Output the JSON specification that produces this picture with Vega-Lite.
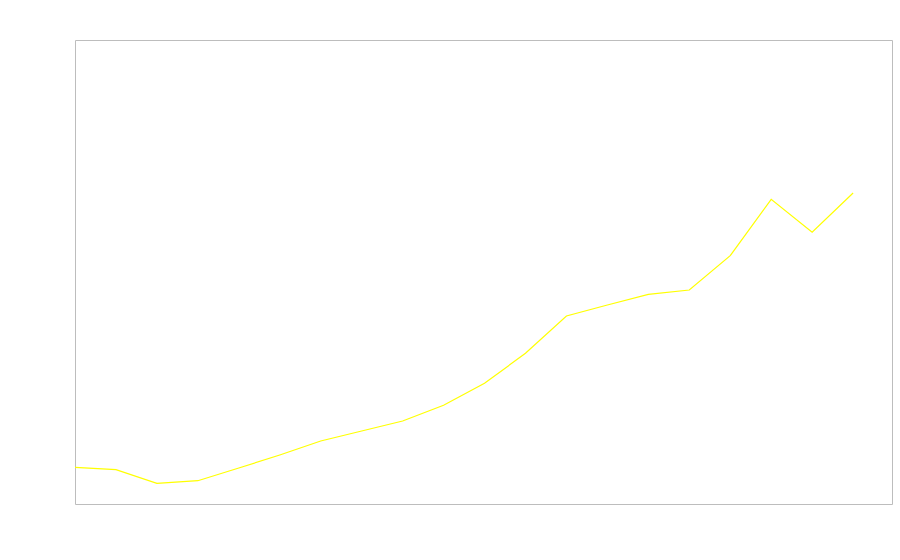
{
  "$schema": "https://vega.github.io/schema/vega-lite/v6.json",
  "width": 817,
  "height": 464,
  "autosize": {"type": "none"},
  "padding": {"left": 75, "top": 40, "right": 8, "bottom": 56},
  "background": "white",
  "config": {"view": {"stroke": "#bdbdbd", "strokeWidth": 1}},
  "data": {"values": [
    {"i": 0, "v": 36.7}, {"i": 1, "v": 34.3}, {"i": 2, "v": 20.7}, {"i": 3, "v": 23.3},
    {"i": 4, "v": 36}, {"i": 5, "v": 49}, {"i": 6, "v": 63}, {"i": 7, "v": 73},
    {"i": 8, "v": 83}, {"i": 9, "v": 98.7}, {"i": 10, "v": 120.7}, {"i": 11, "v": 150.7},
    {"i": 12, "v": 188}, {"i": 13, "v": 199}, {"i": 14, "v": 209.7}, {"i": 15, "v": 214},
    {"i": 16, "v": 248.3}, {"i": 17, "v": 304.7}, {"i": 18, "v": 271.7}, {"i": 19, "v": 311}
  ]},
  "mark": {"type": "line", "color": "#ffff00", "strokeWidth": 1.2},
  "encoding": {
    "x": {"field": "i", "type": "quantitative", "scale": {"domain": [0, 19.95], "nice": false, "zero": false}, "axis": null},
    "y": {"field": "v", "type": "quantitative", "scale": {"domain": [0, 464], "nice": false}, "axis": null}
  }
}
